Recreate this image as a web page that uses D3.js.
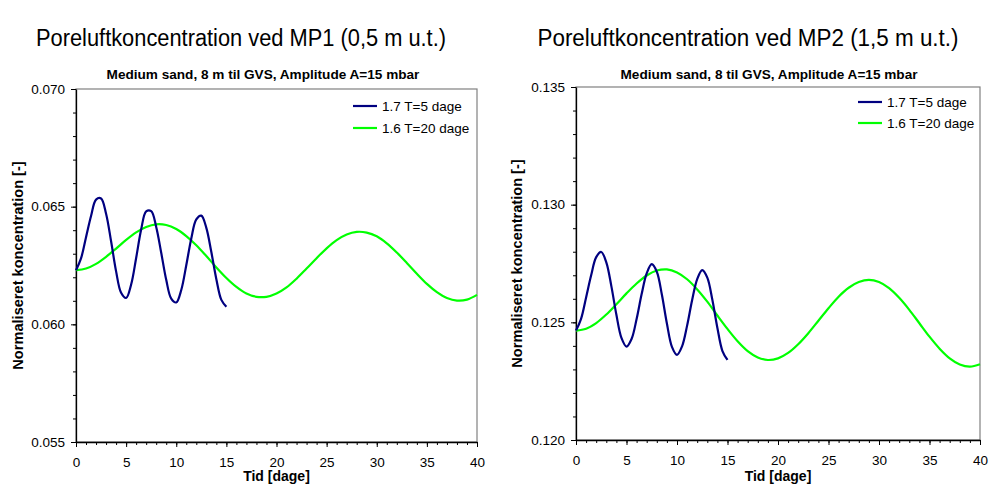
<!DOCTYPE html>
<html>
<head>
<meta charset="UTF-8">
<style>
  body { margin: 0; background: #ffffff; font-family: "Liberation Sans", Arial, sans-serif; }
  svg { display: block; }
  .tick text { font-family: "Liberation Sans", Arial, sans-serif; }
</style>
</head>
<body>
<svg id="chart" width="989" height="484"></svg>
<script src="https://d3js.org/d3.v7.min.js"></script>
<script>
// time in days
const tShort = [0, 0.5, 1, 1.5, 2, 2.5, 3, 3.5, 4, 4.5, 5, 5.5, 6, 6.5, 7, 7.5, 8, 8.5, 9, 9.5, 10,
  10.5, 11, 11.5, 12, 12.5, 13, 13.5, 14, 14.5, 15];
const tLong = [0, 1, 2, 3, 4, 5, 6, 7, 8, 9, 10, 11, 12, 13, 14, 15, 16, 17, 18, 19, 20,
  21, 22, 23, 24, 25, 26, 27, 28, 29, 30, 31, 32, 33, 34, 35, 36, 37, 38, 39, 40];

// MP1 (0,5 m u.t.)
const mp1T5 = [0.0623, 0.0628, 0.0637, 0.0646, 0.0653, 0.06535, 0.0647, 0.06353, 0.06225, 0.06134, 0.06112,
  0.06169, 0.06282, 0.06403, 0.0648, 0.06481, 0.06414, 0.06304, 0.06189, 0.06109, 0.06093,
  0.06146, 0.06251, 0.06365, 0.06446, 0.06462, 0.0641, 0.06307, 0.06192, 0.06104, 0.06075];
const mp1T20 = [0.0623, 0.06237, 0.06257, 0.06287, 0.06322, 0.06359, 0.06391, 0.06414, 0.06425, 0.06422, 0.06405,
  0.06375, 0.06336, 0.0629, 0.06242, 0.06197, 0.06159, 0.06131, 0.06117, 0.06117, 0.06131,
  0.06157, 0.06194, 0.06237, 0.06281, 0.06323, 0.06358, 0.06382, 0.06393, 0.0639, 0.06374,
  0.06344, 0.06305, 0.06261, 0.06215, 0.06172, 0.06137, 0.06112, 0.06101, 0.06105, 0.06125];

// MP2 (1,5 m u.t.)
const mp2T5 = [0.12465, 0.12515, 0.12606, 0.127, 0.12777, 0.12799, 0.12755, 0.12654, 0.12532, 0.12434, 0.12397,
  0.12429, 0.12514, 0.1262, 0.12708, 0.12747, 0.12715, 0.12618, 0.12495, 0.12396, 0.12362,
  0.12398, 0.12486, 0.12595, 0.12684, 0.12722, 0.1269, 0.12596, 0.12476, 0.12378, 0.1234];
const mp2T20 = [0.12465, 0.12473, 0.12497, 0.12533, 0.12577, 0.12623, 0.12665, 0.12699, 0.1272, 0.12725, 0.12712,
  0.12683, 0.1264, 0.12588, 0.12529, 0.12472, 0.1242, 0.12378, 0.12351, 0.1234, 0.12347,
  0.1237, 0.12407, 0.12454, 0.12507, 0.1256, 0.12609, 0.12647, 0.12671, 0.1268, 0.12671,
  0.12645, 0.12604, 0.12553, 0.12496, 0.12439, 0.12388, 0.12347, 0.12321, 0.12312, 0.12322];

const seriesNames = ["1.7 T=5 dage", "1.6 T=20 dage"];
const seriesColors = ["#000080", "#00ff00"];

const xMajor = [0, 5, 10, 15, 20, 25, 30, 35, 40];
const mp1YMajor = [0.055, 0.060, 0.065, 0.070];
const mp2YMajor = [0.120, 0.125, 0.130, 0.135];

const panels = [
  {
    title: "Poreluftkoncentration ved MP1 (0,5 m u.t.)",
    sub: "Medium sand, 8 m til GVS, Amplitude A=15 mbar",
    yDomain: [0.055, 0.070], yMajor: mp1YMajor,
    t5: mp1T5, t20: mp1T20,
    left: 76, right: 477, top: 89, bottom: 442,
    titleX: 241, titleW: 410, subX: 263, yLabX: 18, legX: 353, legY: 106, legStep: 22
  },
  {
    title: "Poreluftkoncentration ved MP2 (1,5 m u.t.)",
    sub: "Medium sand, 8 til GVS, Amplitude A=15 mbar",
    yDomain: [0.120, 0.135], yMajor: mp2YMajor,
    t5: mp2T5, t20: mp2T20,
    left: 576, right: 980, top: 87, bottom: 440,
    titleX: 748, titleW: 421, subX: 769, yLabX: 517, legX: 858, legY: 102, legStep: 21
  }
];

const svg = d3.select("#chart");

panels.forEach(p => {
  let g = svg.append("g");

  let x = d3.scaleLinear().domain([0, 40]).range([p.left, p.right]);
  let y = d3.scaleLinear().domain(p.yDomain).range([p.bottom, p.top]);

  // big heading
  g.append("text")
    .attr("x", p.titleX).attr("y", 46)
    .attr("text-anchor", "middle")
    .attr("font-size", 23)
    .attr("textLength", p.titleW)
    .attr("lengthAdjust", "spacingAndGlyphs")
    .attr("fill", "#000")
    .text(p.title);

  // chart title
  g.append("text")
    .attr("x", p.subX).attr("y", 79)
    .attr("text-anchor", "middle")
    .attr("font-size", 13.6)
    .attr("font-weight", "bold")
    .text(p.sub);

  // plot frame (grey top / right)
  g.append("rect")
    .attr("x", p.left).attr("y", p.top)
    .attr("width", p.right - p.left).attr("height", p.bottom - p.top)
    .attr("fill", "none")
    .attr("stroke", "#808080")
    .attr("stroke-width", 1.2);

  // minor ticks
  let xMinor = d3.range(0, 41, 1);
  let yMinor = d3.range(0, 16).map(i => p.yDomain[0] + i * 0.001);

  g.append("g")
    .attr("transform", `translate(0,${p.bottom})`)
    .call(d3.axisBottom(x).tickValues(xMinor).tickSize(3).tickSizeOuter(0).tickFormat(""))
    .call(a => a.select(".domain").remove());
  g.append("g")
    .attr("transform", `translate(${p.left},0)`)
    .call(d3.axisLeft(y).tickValues(yMinor).tickSize(3).tickSizeOuter(0).tickFormat(""))
    .call(a => a.select(".domain").remove());

  // major axes
  let xAxis = g.append("g")
    .attr("transform", `translate(0,${p.bottom})`)
    .call(d3.axisBottom(x).tickValues(xMajor).tickSize(5).tickSizeOuter(0).tickPadding(10));
  xAxis.selectAll("text").attr("font-size", 13.5).attr("fill", "#000");

  let yAxis = g.append("g")
    .attr("transform", `translate(${p.left},0)`)
    .call(d3.axisLeft(y).tickValues(p.yMajor).tickSize(5).tickSizeOuter(0)
      .tickPadding(6).tickFormat(d3.format(".3f")));
  yAxis.selectAll("text").attr("font-size", 13.5).attr("fill", "#000");

  g.selectAll(".domain").attr("stroke", "#000").attr("stroke-width", 1.3);

  // axis titles
  g.append("text")
    .attr("x", (p.left + p.right) / 2).attr("y", 481)
    .attr("text-anchor", "middle")
    .attr("font-size", 14)
    .attr("font-weight", "bold")
    .text("Tid [dage]");

  g.append("text")
    .attr("transform", `translate(${p.yLabX},${(p.top + p.bottom) / 2}) rotate(-90)`)
    .attr("text-anchor", "middle")
    .attr("dy", "0.35em")
    .attr("font-size", 14.6)
    .attr("font-weight", "bold")
    .text("Normaliseret koncentration [-]");

  // curves
  let line = d3.line()
    .x(d => x(d[0]))
    .y(d => y(d[1]))
    .curve(d3.curveCatmullRom);

  let lines = [
    d3.zip(tShort, p.t5),
    d3.zip(tLong, p.t20)
  ];

  // draw T=20 first so T=5 sits on top like in the original
  [1, 0].forEach(i => {
    g.append("path")
      .datum(lines[i])
      .attr("d", line)
      .attr("fill", "none")
      .attr("stroke", seriesColors[i])
      .attr("stroke-width", 2.2);
  });

  // legend
  seriesNames.forEach((name, i) => {
    let ly = p.legY + i * p.legStep;
    g.append("line")
      .attr("x1", p.legX).attr("x2", p.legX + 24)
      .attr("y1", ly).attr("y2", ly)
      .attr("stroke", seriesColors[i])
      .attr("stroke-width", 2.2);
    g.append("text")
      .attr("x", p.legX + 29).attr("y", ly)
      .attr("dy", "0.35em")
      .attr("font-size", 13.5)
      .text(name);
  });
});
</script>
</body>
</html>
